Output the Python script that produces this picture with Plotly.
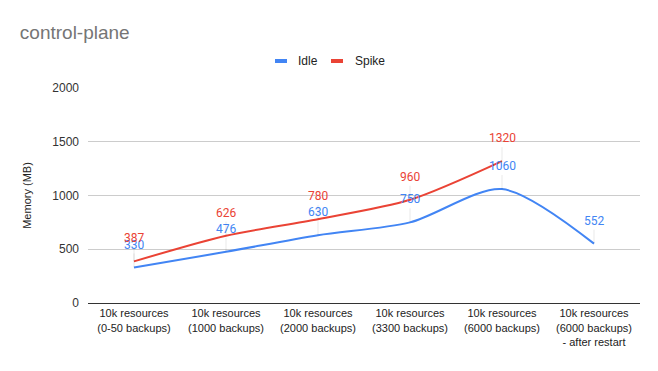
import plotly.graph_objects as go

categories = [
    "10k resources<br>(0-50 backups)",
    "10k resources<br>(1000 backups)",
    "10k resources<br>(2000 backups)",
    "10k resources<br>(3300 backups)",
    "10k resources<br>(6000 backups)",
    "10k resources<br>(6000 backups)<br>- after restart",
]
idle = [330, 476, 630, 750, 1060, 552]
spike = [387, 626, 780, 960, 1320, None]
series_names = ["Idle", "Spike"]

BLUE = "#4285f4"
RED = "#ea4335"
colors = [BLUE, RED]

# plot area in viewport pixels (for legend placement)
PL, PR, PT, PB = 88, 640, 88, 303
def px_x(p):
    return (p - PL) / (PR - PL)
def px_y(p):
    return (PB - p) / (PB - PT)

fig = go.Figure()
for name, vals, col in zip(series_names, (idle, spike), colors):
    fig.add_trace(go.Scatter(x=categories, y=vals, name=name, mode="lines",
                             line=dict(color=col, width=2, shape="spline", smoothing=0.8),
                             showlegend=False))

annotations = []
for series, color in ((idle, BLUE), (spike, RED)):
    for c, v in zip(categories, series):
        if v is None:
            continue
        annotations.append(dict(x=c, y=v, xref="x", yref="y", text=str(v),
                                showarrow=True, arrowhead=0, arrowwidth=1,
                                arrowcolor="rgba(0,0,0,0.08)", ax=0, ay=-14,
                                yanchor="bottom",
                                font=dict(family="Roboto, Arial", size=12, color=color)))

# custom legend: short thick swatches + labels
shapes = []
legend_pos = [(275, 287, 296), (331, 343, 353)]
for (x0, x1, tx), name, col in zip(legend_pos, series_names, colors):
    shapes.append(dict(type="line", xref="paper", yref="paper",
                       x0=px_x(x0), x1=px_x(x1), y0=px_y(61), y1=px_y(61),
                       line=dict(color=col, width=4)))
    annotations.append(dict(x=px_x(tx), y=px_y(61), xref="paper", yref="paper",
                            text=name, showarrow=False, xanchor="left", yanchor="middle",
                            font=dict(family="Arial, Liberation Sans", size=12, color="#222")))

fig.update_layout(
    width=658, height=371,
    paper_bgcolor="white", plot_bgcolor="white",
    margin=dict(l=80, r=26, t=80, b=76, autoexpand=False),
    title=dict(text="control-plane", x=0.018, xanchor="left", y=0.935, yanchor="middle",
               yref="container",
               font=dict(family="Arial, Liberation Sans", size=19, color="#757575")),
    showlegend=False,
    annotations=annotations,
    shapes=shapes,
    xaxis=dict(showgrid=False, showline=True, linecolor="#333", linewidth=1,
               range=[-0.5, 5.5], automargin=False,
               tickfont=dict(family="Arial, Liberation Sans", size=11, color="#222"),
               ticks="", fixedrange=True),
    yaxis=dict(range=[0, 2000], tickvals=[0, 500, 1000, 1500, 2000],
               gridcolor="#cccccc", zeroline=False, automargin=False,
               ticklabelstandoff=8,
               tickfont=dict(family="Arial, Liberation Sans", size=12, color="#333"),
               title=dict(text="Memory (MB)", standoff=18,
                          font=dict(family="Arial, Liberation Sans", size=11, color="#222"))),
)

fig.write_html("out.html")
